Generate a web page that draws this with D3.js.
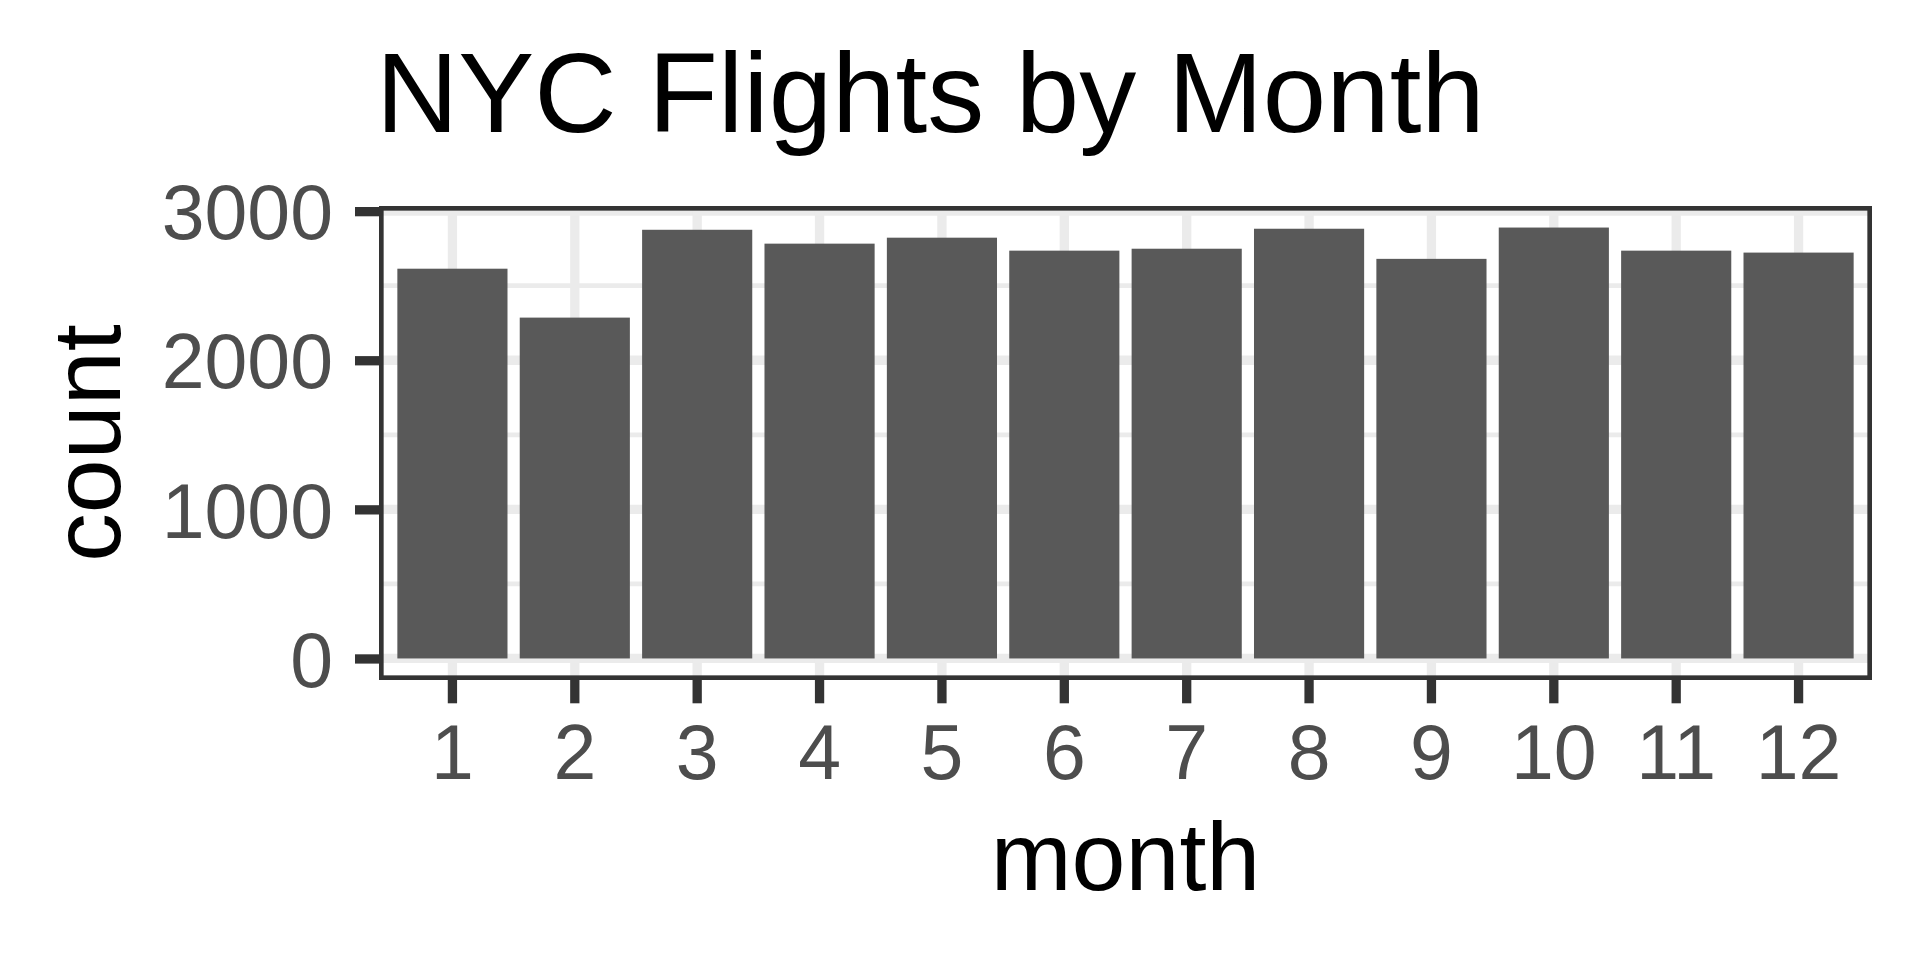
<!DOCTYPE html>
<html>
<head>
<meta charset="utf-8">
<script src="https://cdn.jsdelivr.net/npm/d3@7"></script>
<style>
  body { margin: 0; background: #fff; }
  svg { display: block; font-family: 'Liberation Sans', Arial, Helvetica, sans-serif; }
</style>
</head>
<body>
<div id="chart"></div>
<script>
const months = ['1', '2', '3', '4', '5', '6', '7', '8', '9', '10', '11', '12']
const counts = [2614, 2286, 2875, 2782, 2822, 2735, 2748, 2882, 2680, 2890, 2735, 2722]
const yTicks = [0, 1000, 2000, 3000]
const yMinor = [500, 1500, 2500]

const width = 1920
const height = 960
const marginLeft = 379
const marginRight = 48
const marginTop = 206
const marginBottom = 280

const panelLeft = marginLeft
const panelRight = width - marginRight
const panelTop = marginTop
const panelBottom = height - marginBottom

const majorWidth = 9.3
const minorWidth = 4.7
const gridColor = '#ebebeb'
const inkColor = '#333333'

const x = d3.scaleBand()
  .domain(months)
  .range([panelLeft, panelRight])
  .paddingInner(0.1)
  .paddingOuter(0.15)

const ymax = d3.max(counts)
const y = d3.scaleLinear()
  .domain([-0.05 * ymax, 1.05 * ymax])
  .range([panelBottom, panelTop])

const xc = d => x(d) + x.bandwidth() / 2

const svg = d3.select('#chart').append('svg')
  .attr('width', width)
  .attr('height', height)
  .attr('viewBox', [0, 0, width, height])

svg.append('rect')
  .attr('width', width)
  .attr('height', height)
  .attr('fill', '#fff')

svg.append('defs').append('clipPath')
  .attr('id', 'panelClip')
  .append('rect')
  .attr('x', panelLeft)
  .attr('y', panelTop)
  .attr('width', panelRight - panelLeft)
  .attr('height', panelBottom - panelTop)

const panel = svg.append('g')
  .attr('clip-path', 'url(#panelClip)')

// minor horizontal grid
panel.append('g')
  .selectAll('line')
  .data(yMinor)
  .join('line')
  .attr('x1', panelLeft)
  .attr('x2', panelRight)
  .attr('y1', d => y(d))
  .attr('y2', d => y(d))
  .attr('stroke', gridColor)
  .attr('stroke-width', minorWidth)

// major horizontal grid
panel.append('g')
  .selectAll('line')
  .data(yTicks)
  .join('line')
  .attr('x1', panelLeft)
  .attr('x2', panelRight)
  .attr('y1', d => y(d))
  .attr('y2', d => y(d))
  .attr('stroke', gridColor)
  .attr('stroke-width', majorWidth)

// vertical grid
panel.append('g')
  .selectAll('line')
  .data(months)
  .join('line')
  .attr('x1', xc)
  .attr('x2', xc)
  .attr('y1', panelTop)
  .attr('y2', panelBottom)
  .attr('stroke', gridColor)
  .attr('stroke-width', majorWidth)

// bars
panel.append('g')
  .selectAll('rect')
  .data(months)
  .join('rect')
  .attr('x', d => x(d))
  .attr('width', x.bandwidth())
  .attr('y', (d, i) => y(counts[i]))
  .attr('height', (d, i) => y(0) - y(counts[i]))
  .attr('fill', '#595959')

// panel border (only inner half visible, like ggplot)
panel.append('rect')
  .attr('x', panelLeft)
  .attr('y', panelTop)
  .attr('width', panelRight - panelLeft)
  .attr('height', panelBottom - panelTop)
  .attr('fill', 'none')
  .attr('stroke', inkColor)
  .attr('stroke-width', majorWidth)

const yAxis = d3.axisLeft(y)
  .tickValues(yTicks)
  .tickSize(24)
  .tickPadding(22)
  .tickFormat(d3.format('d'))

svg.append('g')
  .attr('transform', `translate(${panelLeft}, 0)`)
  .call(yAxis)
  .call(g => g.select('.domain').remove())
  .call(g => g.selectAll('.tick line')
    .attr('stroke', inkColor)
    .attr('stroke-width', majorWidth))
  .call(g => g.selectAll('.tick text')
    .attr('fill', '#4d4d4d')
    .attr('font-size', 77)
    .attr('font-family', 'Liberation Sans, Arial, sans-serif')
    .attr('dy', '0.36em'))

const xAxis = d3.axisBottom(x)
  .tickSize(23.3)
  .tickPadding(21)

svg.append('g')
  .attr('transform', `translate(0, ${panelBottom})`)
  .call(xAxis)
  .call(g => g.select('.domain').remove())
  .call(g => g.selectAll('.tick line')
    .attr('stroke', inkColor)
    .attr('stroke-width', majorWidth))
  .call(g => g.selectAll('.tick text')
    .attr('fill', '#4d4d4d')
    .attr('font-size', 77)
    .attr('font-family', 'Liberation Sans, Arial, sans-serif'))

// title
svg.append('text')
  .attr('x', panelLeft - 3)
  .attr('y', 131.7)
  .attr('font-size', 114)
  .attr('fill', '#000')
  .text('NYC Flights by Month')

// axis titles
svg.append('text')
  .attr('x', (panelLeft + panelRight) / 2)
  .attr('y', 890)
  .attr('text-anchor', 'middle')
  .attr('font-size', 97)
  .attr('fill', '#000')
  .text('month')

svg.append('text')
  .attr('transform', `translate(119.6, ${(panelTop + panelBottom) / 2}) rotate(-90)`)
  .attr('text-anchor', 'middle')
  .attr('font-size', 97)
  .attr('fill', '#000')
  .text('count')
</script>
</body>
</html>
